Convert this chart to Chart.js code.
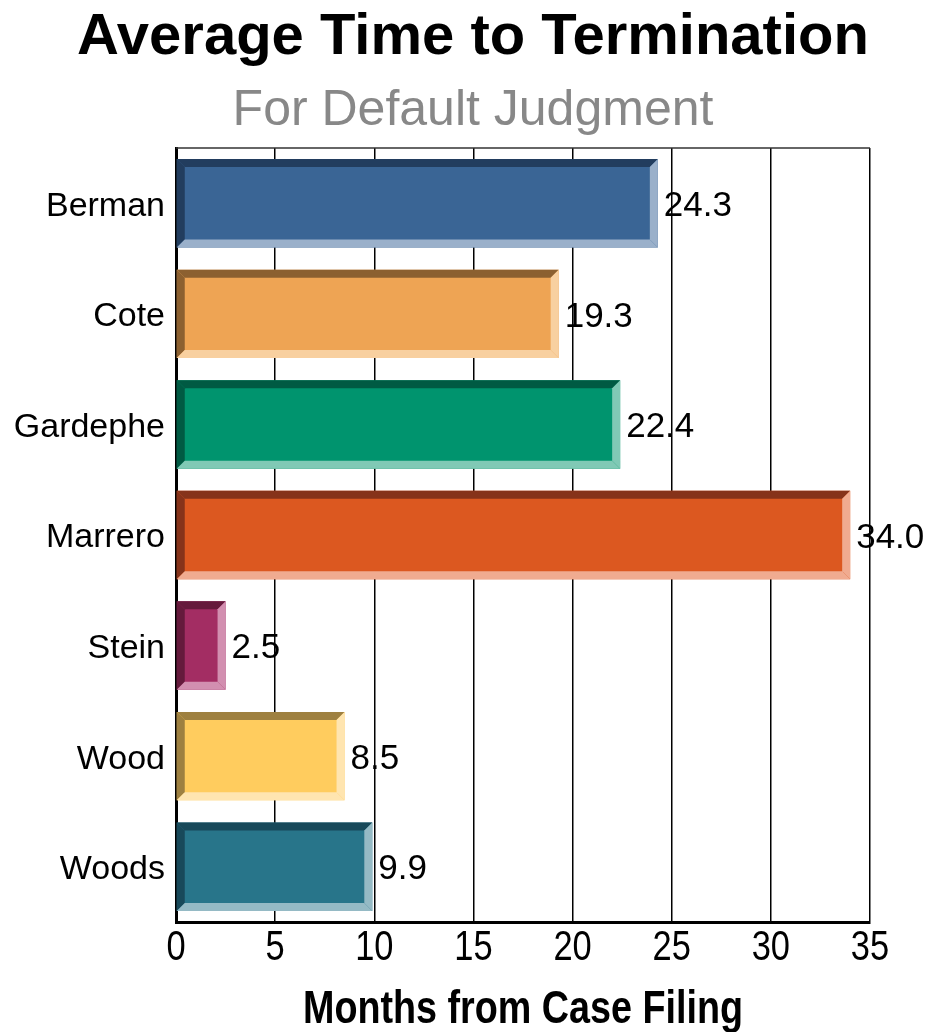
<!DOCTYPE html>
<html>
<head>
<meta charset="utf-8">
<script src="https://cdn.jsdelivr.net/npm/chart.js@4.4.1/dist/chart.umd.min.js"></script>
<style>
  body { margin: 0; background: #fff; }
  #wrap { width: 932px; height: 1032px; position: relative; }
</style>
</head>
<body>
<div id="wrap"><canvas id="myChart"></canvas></div>
<script>
// Data
const judges = ['Berman', 'Cote', 'Gardephe', 'Marrero', 'Stein', 'Wood', 'Woods'];
const months = [24.3, 19.3, 22.4, 34.0, 2.5, 8.5, 9.9];
const xTicks = [0, 5, 10, 15, 20, 25, 30, 35];
const titleText = 'Average Time to Termination';
const subtitleText = 'For Default Judgment';
const xTitleText = 'Months from Case Filing';

// Bar colours: face, dark bevel (top/left), light bevel (bottom/right)
const faceColors = ['#3a6595', '#eea454', '#00946e', '#dc5820', '#a32d63', '#ffcc5e', '#28758a'];
const darkColors = ['#223d5e', '#8c6030', '#005a43', '#86331a', '#651a3c', '#9e8040', '#18495a'];
const lightColors = ['#9ab0ca', '#f8d0a0', '#80c9b5', '#f0ab90', '#d28fb0', '#ffe5b0', '#95bac5'];

const sans = "'Liberation Sans', Arial, sans-serif";

// text helper; squeeze < 1 fakes a narrow face (no Arial Narrow installed)
function drawText(ctx, text, x, y, font, color, squeeze) {
    ctx.save();
    ctx.font = font;
    ctx.textAlign = 'center';
    ctx.textBaseline = 'middle';
    ctx.fillStyle = color;
    ctx.translate(x, y);
    ctx.scale(squeeze, 1);
    ctx.fillText(text, 0, 0);
    ctx.restore();
}

// Bevel edges, value labels, titles
const bevelPlugin = {
    id: 'bevel',
    afterDatasetsDraw(chart) {
        const ctx = chart.ctx;
        const meta = chart.getDatasetMeta(0);
        const b = 8;
        ctx.save();
        meta.data.forEach((bar, i) => {
            const p = bar.getProps(['x', 'y', 'base', 'height'], true);
            const x0 = p.base, x1 = p.x;
            const top = p.y - p.height / 2, bot = p.y + p.height / 2;
            const poly = (pts, color) => {
                ctx.beginPath();
                ctx.moveTo(pts[0][0], pts[0][1]);
                pts.slice(1).forEach(q => ctx.lineTo(q[0], q[1]));
                ctx.closePath();
                ctx.fillStyle = color;
                ctx.fill();
            };
            poly([[x0, top], [x1, top], [x1 - b, top + b], [x0 + b, top + b]], darkColors[i]);
            poly([[x0, top], [x0 + b, top + b], [x0 + b, bot - b], [x0, bot]], darkColors[i]);
            poly([[x0, bot], [x0 + b, bot - b], [x1 - b, bot - b], [x1, bot]], lightColors[i]);
            poly([[x1, top], [x1, bot], [x1 - b, bot - b], [x1 - b, top + b]], lightColors[i]);

            ctx.fillStyle = '#000';
            ctx.font = '35px ' + sans;
            ctx.textAlign = 'left';
            ctx.textBaseline = 'middle';
            ctx.fillText(months[i].toFixed(1), x1 + 6, p.y + 3);
        });
        // top edge of the plot frame
        const a = chart.chartArea;
        ctx.strokeStyle = '#333';
        ctx.lineWidth = 1.5;
        ctx.beginPath();
        ctx.moveTo(a.left, a.top);
        ctx.lineTo(a.right, a.top);
        ctx.stroke();
        ctx.restore();

        // titles
        drawText(ctx, titleText, 473, 38, 'bold 58px ' + sans, '#000', 1);
        drawText(ctx, subtitleText, 473, 111, '50px ' + sans, '#888', 1);

        // x tick labels and axis title in a narrow face
        const xs = chart.scales.x;
        xTicks.forEach(v => {
            drawText(ctx, String(v), xs.getPixelForValue(v), a.bottom + 26, '42px ' + sans, '#000', 0.82);
        });
        drawText(ctx, xTitleText, (a.left + a.right) / 2, 1010, 'bold 46px ' + sans, '#000', 0.82);
    }
};

const ctx = document.getElementById('myChart').getContext('2d');
const myChart = new Chart(ctx, {
    type: 'bar',
    data: {
        labels: judges,
        datasets: [{
            label: xTitleText,
            data: months,
            backgroundColor: faceColors,
            borderWidth: 0,
            categoryPercentage: 0.8,
            barPercentage: 1.0
        }]
    },
    options: {
        indexAxis: 'y',
        responsive: true,
        maintainAspectRatio: false,
        animation: false,
        layout: { padding: { left: 0, right: 62, top: 148, bottom: 0 } },
        plugins: {
            legend: { display: false },
            tooltip: { enabled: false },
            title: { display: false },
            subtitle: { display: false }
        },
        scales: {
            x: {
                min: 0,
                max: 35,
                afterBuildTicks: (scale) => { scale.ticks = xTicks.map(v => ({ value: v })); },
                afterFit: (scale) => { scale.height = 110; },
                grid: { color: '#000', lineWidth: 1.5, drawTicks: false, tickLength: 0 },
                border: { color: '#000', width: 3 },
                ticks: { display: false }
            },
            y: {
                afterFit: (scale) => { scale.width = 176; },
                grid: { display: false, drawTicks: false },
                border: { color: '#000', width: 3 },
                ticks: {
                    color: '#000',
                    padding: 11,
                    labelOffset: 3,
                    font: { family: sans, size: 34 }
                }
            }
        }
    },
    plugins: [bevelPlugin]
});
</script>
</body>
</html>
